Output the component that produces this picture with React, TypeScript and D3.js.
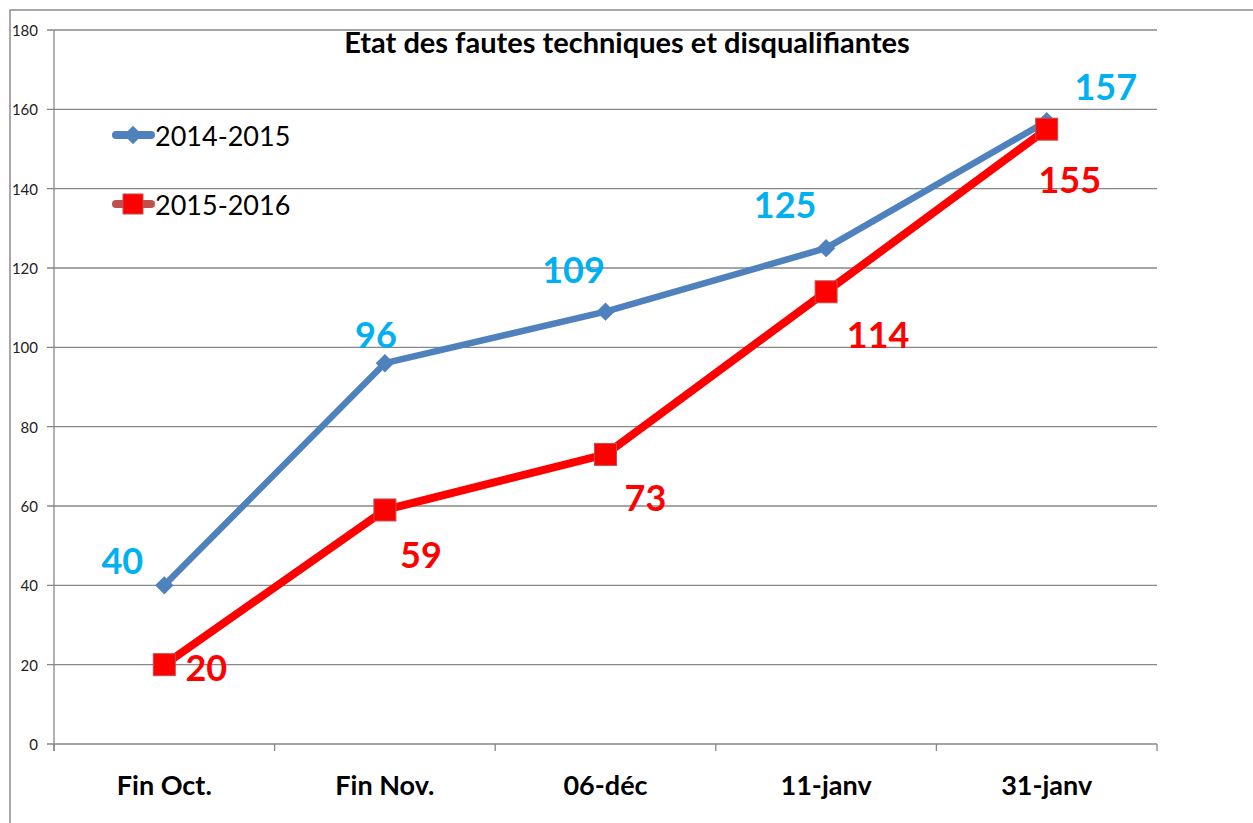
import React from "react";
import * as d3 from "d3";

const categories = ["Fin Oct.", "Fin Nov.", "06-déc", "11-janv", "31-janv"];
const series2014 = [40, 96, 109, 125, 157];
const series2015 = [20, 59, 73, 114, 155];
const yTicks = [0, 20, 40, 60, 80, 100, 120, 140, 160, 180];
const seriesNames = ["2014-2015", "2015-2016"];
const title = "Etat des fautes techniques et disqualifiantes";

// hand-placed label offsets (px) like in the original sheet
const offsets2014 = [[-42, -25], [-9, -29], [-32, -43], [-41, -44], [59, -35]];
const offsets2015 = [[42, 2], [36, 44], [40, 43], [52, 42], [23, 50]];

const width = 1253;
const height = 823;
const margin = { top: 30, right: 96, bottom: 79, left: 54 };

const blue = "#4F81BD";
const red = "#FF0000";
const labelBlue = "#00B0F0";
const grid = "#878787";
const font = "Lato, 'Open Sans', sans-serif";

export default function App() {
  const xScale = d3
    .scaleBand()
    .domain(categories)
    .range([margin.left, width - margin.right]);

  const yScale = d3
    .scaleLinear()
    .domain([0, 180])
    .range([height - margin.bottom, margin.top]);

  const cx = (c) => xScale(c) + xScale.bandwidth() / 2;

  const line = d3
    .line()
    .x((d, i) => cx(categories[i]))
    .y((d) => yScale(d));

  const bottom = height - margin.bottom;
  const bounds = xScale.domain().map((c) => xScale(c)).concat([width - margin.right]);

  // diamond marker = square turned 45deg
  const diamondAt = (x, y, key) => (
    <rect key={key} x={-6.5} y={-6.5} width={13} height={13} fill={blue} transform={`translate(${x},${y}) rotate(45)`} />
  );

  return (
    <svg
      width={width}
      height={height}
      style={{ position: "absolute", left: 0, top: 0, background: "#fff" }}
    >
      <rect x={10} y={10} width={width + 20} height={height + 20} fill="none" stroke="#8c8c8c" strokeWidth={1.5} />

      {yTicks.map((t) => (
        <g key={t}>
          <line x1={margin.left - 7} x2={width - margin.right} y1={yScale(t)} y2={yScale(t)} stroke={grid} strokeWidth={1.3} />
          <text x={38} y={yScale(t)} textAnchor="end" dominantBaseline="central" fontFamily={font} fontSize={15} fill="#222">
            {t}
          </text>
        </g>
      ))}
      <line x1={margin.left} x2={margin.left} y1={margin.top} y2={bottom + 7} stroke={grid} strokeWidth={1.3} />
      {bounds.map((b, i) => (
        <line key={i} x1={b} x2={b} y1={bottom} y2={bottom + 7} stroke={grid} strokeWidth={1.3} />
      ))}
      {categories.map((c) => (
        <text key={c} x={cx(c)} y={784} textAnchor="middle" dominantBaseline="central" fontFamily={font} fontWeight="bold" fontSize={27} fill="#000">
          {c}
        </text>
      ))}

      <text x={627} y={41} textAnchor="middle" dominantBaseline="central" fontFamily={font} fontWeight="bold" fontSize={29} fill="#000">
        {title}
      </text>

      <path d={line(series2014)} fill="none" stroke={blue} strokeWidth={6.5} strokeLinejoin="round" />
      {series2014.map((v, i) => diamondAt(cx(categories[i]), yScale(v), i))}

      <path d={line(series2015)} fill="none" stroke={red} strokeWidth={8} strokeLinejoin="round" />
      {series2015.map((v, i) => (
        <rect key={i} x={cx(categories[i]) - 11} y={yScale(v) - 11} width={22} height={22} fill={red} stroke="#C0504D" strokeWidth={1} />
      ))}

      {series2014.map((v, i) => (
        <text key={i} x={cx(categories[i]) + offsets2014[i][0]} y={yScale(v) + offsets2014[i][1]} textAnchor="middle" dominantBaseline="central" fontFamily={font} fontWeight="bold" fontSize={36} fill={labelBlue}>
          {v}
        </text>
      ))}
      {series2015.map((v, i) => (
        <text key={i} x={cx(categories[i]) + offsets2015[i][0]} y={yScale(v) + offsets2015[i][1]} textAnchor="middle" dominantBaseline="central" fontFamily={font} fontWeight="bold" fontSize={36} fill={red}>
          {v}
        </text>
      ))}

      <g>
        <line x1={116} x2={151} y1={135} y2={135} stroke={blue} strokeWidth={8} strokeLinecap="round" />
        {diamondAt(133, 135, "lg")}
        <text x={155} y={135} dominantBaseline="central" fontFamily={font} fontSize={27} fill="#000">
          {seriesNames[0]}
        </text>
        <line x1={116} x2={151} y1={204} y2={204} stroke="#C0504D" strokeWidth={8} strokeLinecap="round" />
        <rect x={123} y={194} width={20} height={20} fill={red} stroke="#C0504D" strokeWidth={1} />
        <text x={155} y={204} dominantBaseline="central" fontFamily={font} fontSize={27} fill="#000">
          {seriesNames[1]}
        </text>
      </g>
    </svg>
  );
}
